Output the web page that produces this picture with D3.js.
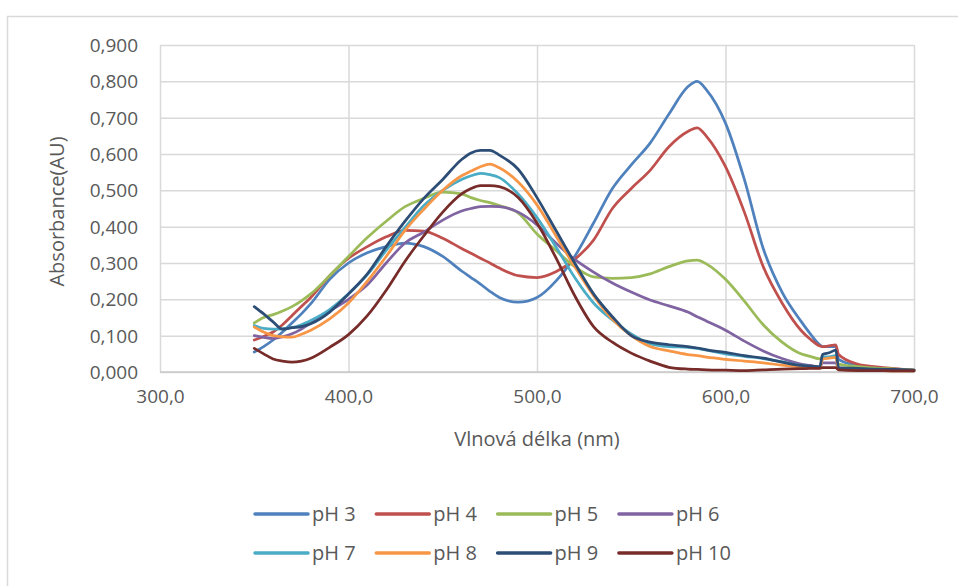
<!DOCTYPE html>
<html>
<head>
<meta charset="utf-8">
<script src="https://cdn.jsdelivr.net/npm/d3@7"></script>
<style>
  html, body { margin: 0; padding: 0; background: #fff; }
  svg { display: block; font-family: "Open Sans", sans-serif; }
</style>
</head>
<body>
<svg id="chart" width="958" height="586"></svg>
<script>
// ---- Data ----
const wavelengths = [350,355,360,365,370,375,380,390,400,410,420,430,440,450,460,465,470,475,480,490,500,510,520,530,540,550,560,570,580,585,590,600,610,620,630,640,645,650,651.5,655,658.5,660,670,680,690,700];

const pH3  = [0.055,0.070,0.088,0.110,0.135,0.160,0.188,0.255,0.300,0.328,0.345,0.355,0.345,0.318,0.278,0.260,0.242,0.222,0.205,0.192,0.205,0.250,0.318,0.410,0.505,0.570,0.630,0.710,0.785,0.800,0.776,0.685,0.530,0.340,0.220,0.140,0.105,0.075,0.070,0.070,0.070,0.035,0.018,0.012,0.008,0.005];
const pH4  = [0.088,0.098,0.110,0.130,0.155,0.180,0.205,0.265,0.313,0.345,0.372,0.390,0.388,0.368,0.340,0.327,0.313,0.300,0.286,0.265,0.260,0.276,0.310,0.363,0.450,0.505,0.555,0.620,0.662,0.672,0.648,0.565,0.440,0.290,0.190,0.115,0.090,0.072,0.070,0.072,0.075,0.048,0.022,0.014,0.009,0.005];
const pH5  = [0.135,0.150,0.158,0.168,0.180,0.196,0.215,0.265,0.318,0.370,0.415,0.455,0.478,0.495,0.490,0.480,0.472,0.466,0.458,0.438,0.380,0.335,0.290,0.262,0.258,0.260,0.270,0.290,0.306,0.308,0.297,0.255,0.195,0.130,0.082,0.050,0.043,0.036,0.040,0.040,0.040,0.022,0.015,0.011,0.008,0.005];
const pH6  = [0.100,0.095,0.092,0.097,0.105,0.118,0.135,0.168,0.200,0.240,0.300,0.355,0.385,0.418,0.443,0.450,0.455,0.456,0.455,0.440,0.405,0.355,0.310,0.275,0.245,0.220,0.198,0.182,0.165,0.152,0.140,0.115,0.085,0.058,0.037,0.022,0.018,0.014,0.025,0.025,0.025,0.010,0.008,0.006,0.005,0.004];
const pH7  = [0.128,0.120,0.118,0.119,0.122,0.130,0.142,0.172,0.215,0.268,0.335,0.398,0.458,0.500,0.530,0.540,0.547,0.543,0.535,0.490,0.425,0.345,0.260,0.190,0.143,0.105,0.078,0.070,0.068,0.065,0.060,0.050,0.043,0.037,0.028,0.018,0.015,0.012,0.040,0.042,0.045,0.008,0.006,0.005,0.004,0.003];
const pH8  = [0.124,0.110,0.100,0.097,0.096,0.104,0.115,0.146,0.190,0.250,0.318,0.390,0.448,0.500,0.540,0.553,0.565,0.572,0.562,0.523,0.460,0.375,0.290,0.210,0.145,0.100,0.070,0.058,0.048,0.045,0.041,0.035,0.030,0.025,0.019,0.014,0.012,0.010,0.035,0.038,0.040,0.007,0.005,0.004,0.003,0.003];
const pH9  = [0.180,0.160,0.138,0.118,0.122,0.125,0.133,0.165,0.215,0.270,0.345,0.415,0.478,0.530,0.585,0.603,0.610,0.610,0.597,0.558,0.480,0.390,0.300,0.215,0.152,0.100,0.082,0.075,0.070,0.066,0.061,0.054,0.045,0.038,0.027,0.018,0.016,0.014,0.048,0.053,0.060,0.012,0.010,0.008,0.007,0.005];
const pH10 = [0.065,0.050,0.036,0.030,0.027,0.030,0.038,0.068,0.103,0.155,0.225,0.305,0.375,0.440,0.490,0.505,0.513,0.513,0.510,0.480,0.410,0.315,0.210,0.125,0.082,0.052,0.030,0.013,0.008,0.007,0.006,0.005,0.004,0.006,0.008,0.009,0.010,0.010,0.012,0.012,0.012,0.006,0.004,0.004,0.003,0.003];

const seriesNames = ["pH 3","pH 4","pH 5","pH 6","pH 7","pH 8","pH 9","pH 10"];
const seriesValues = [pH3,pH4,pH5,pH6,pH7,pH8,pH9,pH10];
const colors = ["#4F81BD","#C0504D","#9BBB59","#8064A2","#4BACC6","#F79646","#2C4D75","#772C2A"];

const xTicks = [300,400,500,600,700];
const yTicks = [0,0.1,0.2,0.3,0.4,0.5,0.6,0.7,0.8,0.9];
const xTitle = "Vlnová délka (nm)";
const yTitle = "Absorbance(AU)";

// ---- Layout ----
const svg = d3.select("#chart");
const L = 160, R = 914, T = 45, B = 372;
const x = d3.scaleLinear().domain([300,700]).range([L,R]);
const y = d3.scaleLinear().domain([0,0.9]).range([B,T]);
const textColor = "#595959";
const gridColor = "#d9d9d9";

// chart frame
svg.append("rect").attr("x",7.5).attr("y",16.5).attr("width",1000).attr("height",700)
  .attr("fill","none").attr("stroke","#d9d9d9").attr("stroke-width",1.5);

// gridlines
const gy = svg.append("g").attr("transform",`translate(${L},0)`)
  .call(d3.axisLeft(y).tickValues(yTicks).tickSize(-(R-L)).tickFormat(""));
gy.select(".domain").remove();
gy.selectAll(".tick line").attr("stroke",gridColor).attr("stroke-width",1.5);

const gx = svg.append("g").attr("transform",`translate(0,${B})`)
  .call(d3.axisBottom(x).tickValues(xTicks).tickSize(-(B-T)).tickFormat(""));
gx.select(".domain").remove();
gx.selectAll(".tick line").attr("stroke",gridColor).attr("stroke-width",1.5);

// bottom axis line
svg.append("line").attr("x1",L).attr("x2",R).attr("y1",B).attr("y2",B)
  .attr("stroke","#c8c8c8").attr("stroke-width",1.5);

// tick labels
const fmtY = d => d3.format(".3f")(d).replace(".",",");
const fmtX = d => d3.format(".1f")(d).replace(".",",");
const ay = svg.append("g").attr("transform",`translate(${L-22},0)`)
  .call(d3.axisLeft(y).tickValues(yTicks).tickSize(0).tickFormat(fmtY));
ay.select(".domain").remove();
ay.selectAll("text").attr("fill",textColor).style("font-size","19px")
  .style("font-family","'Open Sans', sans-serif").attr("x",0).attr("dy","0.35em");

const ax = svg.append("g").attr("transform",`translate(0,${B+17})`)
  .call(d3.axisBottom(x).tickValues(xTicks).tickSize(0).tickFormat(fmtX));
ax.select(".domain").remove();
ax.selectAll("text").attr("fill",textColor).style("font-size","19px")
  .style("font-family","'Open Sans', sans-serif").attr("y",0).attr("dy","0.71em");

// axis titles
svg.append("text").attr("x",(L+R)/2).attr("y",446).attr("text-anchor","middle")
  .attr("fill",textColor).style("font-size","20px").text(xTitle);
svg.append("text").attr("transform",`translate(64,${(T+B)/2 + 3}) rotate(-90)`)
  .attr("text-anchor","middle").attr("fill",textColor).style("font-size","20px").text(yTitle);

// lines
const line = d3.line().x(d => x(d[0])).y(d => y(d[1])).curve(d3.curveMonotoneX);
const plot = svg.append("g");
seriesValues.forEach((vals,i) => {
  const pts = wavelengths.map((w,j) => [w, vals[j]]);
  plot.append("path").datum(pts).attr("d",line)
    .attr("fill","none").attr("stroke",colors[i]).attr("stroke-width",2.75)
    .attr("stroke-linejoin","round").attr("stroke-linecap","round");
});

// legend
const legendX0 = 255, legendDX = 121.3, legendRows = [514, 553];
seriesNames.forEach((name,i) => {
  const col = i % 4, row = Math.floor(i/4);
  const lx = legendX0 + col*legendDX, ly = legendRows[row];
  const g = svg.append("g");
  g.append("line").attr("x1",lx).attr("x2",lx+53).attr("y1",ly).attr("y2",ly)
    .attr("stroke",colors[i]).attr("stroke-width",3.5).attr("stroke-linecap","round");
  g.append("text").attr("x",lx+57).attr("y",ly).attr("dy","0.35em")
    .attr("fill",textColor).style("font-size","20px").text(name);
});
</script>
</body>
</html>
